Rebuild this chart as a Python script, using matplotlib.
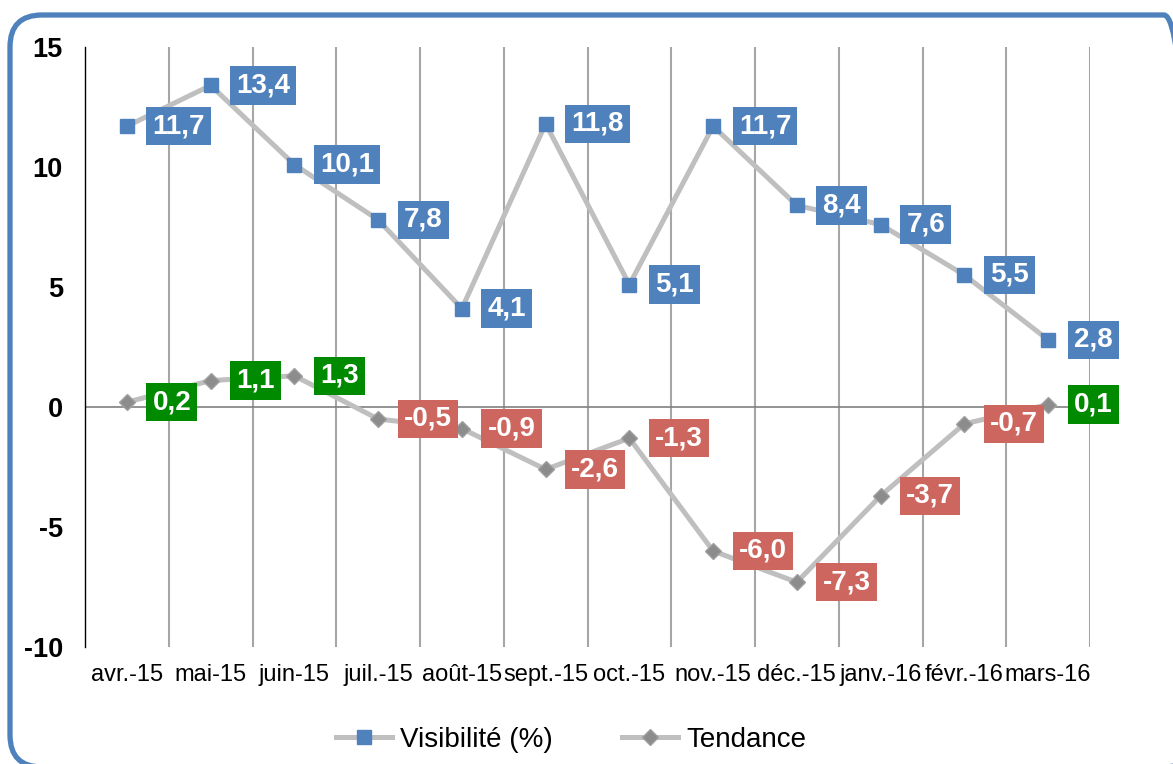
import numpy as np
import matplotlib
matplotlib.use("Agg")
import matplotlib.pyplot as plt
from matplotlib.patches import FancyBboxPatch
from matplotlib.transforms import IdentityTransform

plt.rcParams["font.family"] = ["Liberation Sans", "DejaVu Sans"]

months = ["avr.-15", "mai-15", "juin-15", "juil.-15", "août-15", "sept.-15",
          "oct.-15", "nov.-15", "déc.-15", "janv.-16", "févr.-16", "mars-16"]
visibilite = [11.7, 13.4, 10.1, 7.8, 4.1, 11.8, 5.1, 11.7, 8.4, 7.6, 5.5, 2.8]
tendance = [0.2, 1.1, 1.3, -0.5, -0.9, -2.6, -1.3, -6.0, -7.3, -3.7, -0.7, 0.1]
yticks = [-10, -5, 0, 5, 10, 15]

blue = "#4F81BD"
green = "#008A00"
red = "#CD665E"
line_grey = "#BFBFBF"

W, H = 1173, 764
fig = plt.figure(figsize=(W / 100, H / 100), dpi=100)
ax = fig.add_axes([85 / W, 1 - 647 / H, (1090 - 85) / W, 600 / H])

x = np.arange(len(months))

# rounded blue frame round the whole chart (pixel coords), right side runs off the image
frame = FancyBboxPatch((10, -3), 1186, 752, boxstyle="round,pad=0,rounding_size=32",
                       transform=IdentityTransform(), fill=False,
                       edgecolor=blue, linewidth=3.8, zorder=0)
fig.patches.append(frame)

ax.plot(x, visibilite, color=line_grey, lw=3.6, marker="s", ms=10,
        mfc=blue, mec=blue, label="Visibilité (%)", zorder=3)
ax.plot(x, tendance, color=line_grey, lw=3.6, marker="D", ms=8,
        mfc="#8C8C8C", mec="#A0A0A0", label="Tendance", zorder=3)

def fmt(v):
    return f"{v:.1f}".replace(".", ",")

for xi, v in zip(x, visibilite):
    ax.annotate(fmt(v), (xi, v), xytext=(18.5, 0), textcoords="offset points",
                ha="left", va="center", color="white", fontsize=20, fontweight="bold",
                bbox=dict(boxstyle="square,pad=0.22", fc=blue, ec="none"), zorder=4)

for xi, v in zip(x, tendance):
    c = green if v >= 0 else red
    ax.annotate(fmt(v), (xi, v), xytext=(18.5, 0), textcoords="offset points",
                ha="left", va="center", color="white", fontsize=20, fontweight="bold",
                bbox=dict(boxstyle="square,pad=0.22", fc=c, ec="none"), zorder=4)

ax.set_xlim(-0.5, 11.5)
ax.set_ylim(-10, 15)
ax.set_yticks(yticks)
ax.set_yticklabels([str(t) for t in yticks], fontsize=19.5, fontweight="bold")
ax.set_xticks(x)
ax.set_xticklabels(months, fontsize=17)
ax.set_xticks(np.arange(0.5, 12, 1), minor=True)
ax.tick_params(axis="both", which="both", length=0)
ax.tick_params(axis="y", pad=16)
ax.tick_params(axis="x", pad=12)
ax.grid(which="minor", axis="x", color="#A6A6A6", lw=1.5)
ax.axhline(0, color="#808080", lw=1.2, zorder=2)

for s in ["top", "right", "bottom"]:
    ax.spines[s].set_visible(False)
ax.spines["left"].set_color("black")
ax.spines["left"].set_linewidth(1.0)

fig.legend(loc="center", bbox_to_anchor=(571 / W, 1 - 740 / H), ncol=2,
           frameon=False, fontsize=20, handlelength=2.0, handletextpad=0.3,
           columnspacing=2.5)

fig.savefig("out.png", dpi=100)
